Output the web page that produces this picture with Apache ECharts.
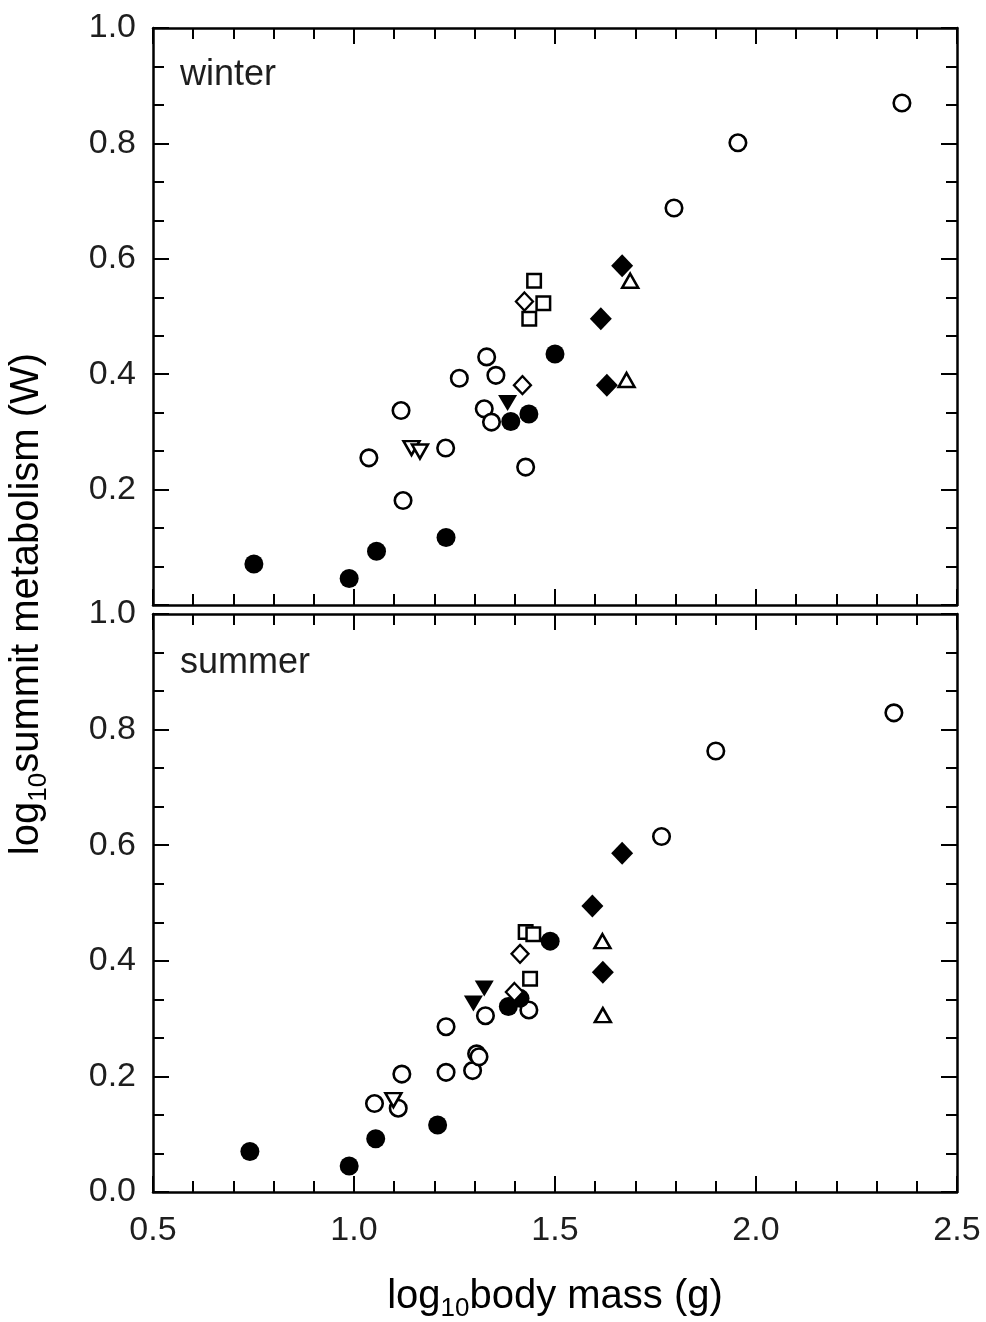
<!DOCTYPE html>
<html>
<head>
<meta charset="utf-8">
<script src="https://cdn.jsdelivr.net/npm/echarts@6/dist/echarts.min.js"></script>
<style>
html,body{margin:0;padding:0;background:#fff;}
#chart{width:986px;height:1322px;}
</style>
</head>
<body>
<div id="chart"></div>
<script>
// ---- data (log10 body mass, log10 summit metabolism) ----
// winter panel
const winterOpenCircle = [[1.037,0.255],[1.117,0.337],[1.122,0.181],[1.228,0.272],[1.262,0.393],[1.330,0.430],[1.353,0.398],[1.324,0.340],[1.342,0.317],[1.427,0.239],[1.796,0.688],[1.955,0.801],[2.363,0.870]];
const winterFilledCircle = [[0.751,0.071],[0.988,0.046],[1.056,0.093],[1.229,0.117],[1.390,0.318],[1.435,0.331],[1.500,0.435]];
const winterOpenSquare = [[1.448,0.562],[1.471,0.523],[1.436,0.496]];
const winterOpenDiamond = [[1.424,0.526],[1.419,0.381]];
const winterFilledDiamond = [[1.667,0.588],[1.614,0.496],[1.629,0.381]];
const winterOpenTriUp = [[1.687,0.562],[1.678,0.390]];
const winterFilledTriDown = [[1.382,0.350]];
const winterOpenTriDown = [[1.143,0.272],[1.164,0.266]];
// summer panel
const summerOpenCircle = [[1.051,0.153],[1.110,0.145],[1.119,0.204],[1.229,0.207],[1.229,0.286],[1.295,0.210],[1.305,0.239],[1.311,0.234],[1.327,0.305],[1.435,0.315],[1.765,0.615],[1.900,0.763],[2.343,0.829]];
const summerFilledCircle = [[0.741,0.070],[0.988,0.045],[1.054,0.092],[1.208,0.116],[1.384,0.321],[1.413,0.335],[1.488,0.434]];
const summerOpenSquare = [[1.427,0.450],[1.446,0.446],[1.438,0.369]];
const summerOpenDiamond = [[1.413,0.412],[1.399,0.346]];
const summerFilledDiamond = [[1.667,0.586],[1.593,0.495],[1.619,0.380]];
const summerOpenTriUp = [[1.618,0.434],[1.619,0.306]];
const summerFilledTriDown = [[1.324,0.352],[1.297,0.326]];
const summerOpenTriDown = [[1.098,0.159]];

const panelNames = ['winter', 'summer'];
const xRange = [0.5, 2.5];
const yRange = [0.0, 1.0];

// ---- styling ----
const FONT = "'Liberation Sans', Arial, sans-serif";
const TXT = '#1e1e1e';
const axisLine = {show: true, onZero: false, lineStyle: {color: '#000', width: 2.5}};

function xAxisDef(grid, pos, labels) {
  return {
    type: 'value', gridIndex: grid, position: pos, min: xRange[0], max: xRange[1], interval: 0.5,
    axisLine: axisLine,
    axisTick: {show: true, inside: true, length: 16, lineStyle: {color: '#000', width: 2}},
    minorTick: {show: true, splitNumber: 5, length: 11, lineStyle: {color: '#000', width: 2}},
    splitLine: {show: false}, minorSplitLine: {show: false},
    axisLabel: {show: labels, margin: 22, fontFamily: FONT, fontSize: 34, color: TXT,
      formatter: v => v.toFixed(1)}
  };
}
function yAxisDef(grid, pos, labels, hideZero) {
  return {
    type: 'value', gridIndex: grid, position: pos, min: yRange[0], max: yRange[1], interval: 0.2,
    axisLine: axisLine,
    axisTick: {show: true, inside: true, length: 16, lineStyle: {color: '#000', width: 2}},
    minorTick: {show: true, splitNumber: 3, length: 11, lineStyle: {color: '#000', width: 2}},
    splitLine: {show: false}, minorSplitLine: {show: false},
    axisLabel: {show: labels, margin: 17, fontFamily: FONT, fontSize: 34, color: TXT,
      formatter: v => (hideZero && Math.abs(v) < 1e-9) ? '' : v.toFixed(1)}
  };
}

function sc(data, grid, symbol, size, fill, bw, rot) {
  return {
    type: 'scatter', xAxisIndex: grid * 2, yAxisIndex: grid * 2, data: data,
    symbol: symbol, symbolSize: size, symbolRotate: rot || 0,
    itemStyle: {color: fill, borderColor: '#000', borderWidth: bw, opacity: 1},
    emphasis: {disabled: true}, silent: true
  };
}

function panelSeries(g, d) {
  return [
    sc(d.openCircle, g, 'circle', 16.5, '#fff', 2.6),
    sc(d.filledCircle, g, 'circle', 19, '#000', 0),
    sc(d.filledTriDown, g, 'triangle', [19, 16], '#000', 0, 180),
    sc(d.openTriDown, g, 'triangle', [16, 14], '#fff', 2.5, 180),
    sc(d.openSquare, g, 'rect', 13.5, '#fff', 2.5),
    sc(d.openDiamond, g, 'diamond', [17, 18], '#fff', 2.3),
    sc(d.filledDiamond, g, 'diamond', [22, 23], '#000', 0),
    sc(d.openTriUp, g, 'triangle', [16, 14], '#fff', 2.5)
  ];
}

const winter = {openCircle: winterOpenCircle, filledCircle: winterFilledCircle, openSquare: winterOpenSquare,
  openDiamond: winterOpenDiamond, filledDiamond: winterFilledDiamond, openTriUp: winterOpenTriUp,
  filledTriDown: winterFilledTriDown, openTriDown: winterOpenTriDown};
const summer = {openCircle: summerOpenCircle, filledCircle: summerFilledCircle, openSquare: summerOpenSquare,
  openDiamond: summerOpenDiamond, filledDiamond: summerFilledDiamond, openTriUp: summerOpenTriUp,
  filledTriDown: summerFilledTriDown, openTriDown: summerOpenTriDown};

const chart = echarts.init(document.getElementById('chart'), null, {renderer: 'canvas'});
const option = {
  animation: false,
  backgroundColor: '#fff',
  grid: [
    {left: 153, right: 29, top: 28, height: 577},
    {left: 153, right: 29, top: 614, height: 578}
  ],
  xAxis: [
    xAxisDef(0, 'bottom', false), xAxisDef(0, 'top', false),
    xAxisDef(1, 'bottom', true), xAxisDef(1, 'top', false)
  ],
  yAxis: [
    yAxisDef(0, 'left', true, true), yAxisDef(0, 'right', false, false),
    yAxisDef(1, 'left', true, false), yAxisDef(1, 'right', false, false)
  ],
  series: [].concat(panelSeries(0, winter), panelSeries(1, summer)),
  graphic: [
    {type: 'text', left: 180, top: 57, style: {text: panelNames[0], font: '36px ' + FONT, fill: TXT}},
    {type: 'text', left: 180, top: 645, style: {text: panelNames[1], font: '36px ' + FONT, fill: TXT}},
    {type: 'text', x: 555, y: 1297, style: {
      text: '{a|log}{b|10}{a|body mass (g)}', align: 'center', verticalAlign: 'middle',
      rich: {a: {fontFamily: FONT, fontSize: 40, color: TXT, lineHeight: 50, verticalAlign: 'middle'},
             b: {fontFamily: FONT, fontSize: 26, color: TXT, verticalAlign: 'bottom'}}}},
    {type: 'text', x: 27, y: 604, rotation: Math.PI / 2, style: {
      text: '{a|log}{b|10}{a|summit metabolism (W)}', align: 'center', verticalAlign: 'middle',
      rich: {a: {fontFamily: FONT, fontSize: 40, color: TXT, lineHeight: 50, verticalAlign: 'middle'},
             b: {fontFamily: FONT, fontSize: 26, color: TXT, verticalAlign: 'bottom'}}}}
  ]
};
chart.setOption(option);
</script>
</body>
</html>
